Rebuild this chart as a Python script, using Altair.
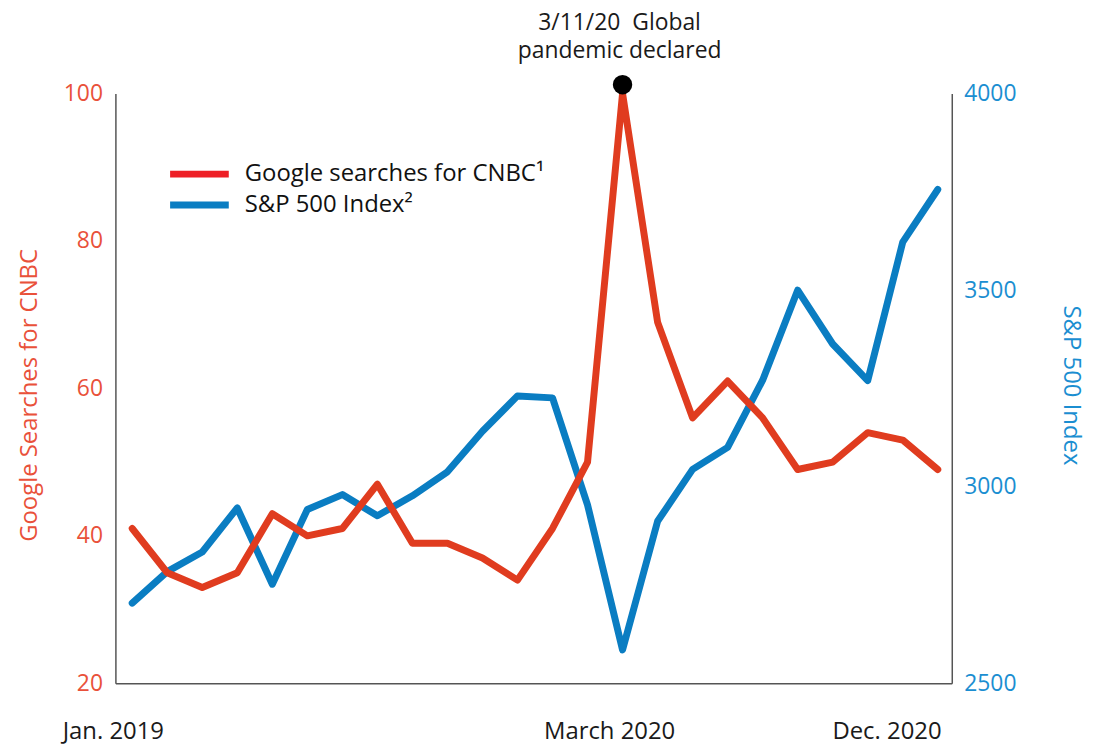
import altair as alt
import pandas as pd

months = ["2019-01", "2019-02", "2019-03", "2019-04", "2019-05", "2019-06",
          "2019-07", "2019-08", "2019-09", "2019-10", "2019-11", "2019-12",
          "2020-01", "2020-02", "2020-03", "2020-04", "2020-05", "2020-06",
          "2020-07", "2020-08", "2020-09", "2020-10", "2020-11", "2020-12"]
cnbc_searches = [41, 35, 33, 35, 43, 40, 41, 47, 39, 39, 37, 34,
                 41, 50, 100, 69, 56, 61, 56, 49, 50, 54, 53, 49]
sp500 = [2704, 2784, 2834, 2946, 2752, 2942, 2980, 2926, 2977, 3038, 3141, 3231,
         3226, 2954, 2585, 2912, 3044, 3100, 3271, 3500, 3363, 3270, 3622, 3756]

x_labels = ["Jan. 2019", "March 2020", "Dec. 2020"]
x_label_pos = [-0.54, 13.63, 21.55]

event_month = "2020-03"
event_line1 = "3/11/20\u00a0 Global"
event_line2 = "pandemic declared"
event_marker_value = 101.2

series_names = ["Google searches for CNBC\u00b9", "S&P 500 Index\u00b2"]
left_ticks = [20, 40, 60, 80, 100]
right_ticks = [2500, 3000, 3500, 4000]

RED = "#E03C1F"
BLUE = "#0A7DC2"
RED_LABEL = "#E9513A"
BLUE_LABEL = "#1B8ED1"
FONT = "Open Sans"
FS = 24

df = pd.DataFrame({"month": months, "idx": list(range(len(months))),
                   "cnbc": cnbc_searches, "sp": sp500})
lab_df = pd.DataFrame({"label": x_labels, "pos": x_label_pos})
ev_idx = months.index(event_month)
ev_df = pd.DataFrame({"idx": [ev_idx], "v": [event_marker_value]})
ev_df1 = pd.DataFrame({"idx": [ev_idx], "t": [event_line1]})
ev_df2 = pd.DataFrame({"idx": [ev_idx], "t": [event_line2]})

xscale = alt.Scale(domain=[-0.48, 23.4], nice=False, zero=False)
xaxis = alt.Axis(labels=False, ticks=False, grid=False, title=None,
                 domainColor="#555555", domainWidth=1.5)

blue_line = alt.Chart(df).mark_line(
    color=BLUE, strokeWidth=7, strokeCap="round", strokeJoin="round"
).encode(
    x=alt.X("idx:Q", scale=xscale, axis=xaxis),
    y=alt.Y("sp:Q", scale=alt.Scale(domain=[2500, 4000], nice=False, zero=False),
            axis=alt.Axis(orient="right", values=right_ticks, format="d",
                          ticks=False, grid=False,
                          labelColor=BLUE_LABEL, labelFontSize=23, labelFont=FONT,
                          labelPadding=12, domainColor="#555555", domainWidth=1.5,
                          title="S&P 500 Index", titleColor=BLUE_LABEL,
                          titleFontSize=FS, titleFont=FONT, titleFontWeight="normal",
                          titleAngle=90, titleX=119, titleY=293,
                          titleAlign="center", titleBaseline="middle")),
)

red_y_scale = alt.Scale(domain=[20, 100], nice=False, zero=False)
red_line = alt.Chart(df).mark_line(
    color=RED, strokeWidth=7, strokeCap="round", strokeJoin="round"
).encode(
    x=alt.X("idx:Q", scale=xscale, axis=xaxis),
    y=alt.Y("cnbc:Q", scale=red_y_scale,
            axis=alt.Axis(orient="left", values=left_ticks, ticks=False, grid=False,
                          labelColor=RED_LABEL, labelFontSize=23, labelFont=FONT,
                          labelPadding=13, domainColor="#555555", domainWidth=1.5,
                          title="Google Searches for CNBC", titleColor=RED_LABEL,
                          titleFontSize=FS, titleFont=FONT, titleFontWeight="normal",
                          titleAngle=270, titleX=-86, titleY=303,
                          titleAlign="center", titleBaseline="middle")),
)

dot = alt.Chart(ev_df).mark_point(
    filled=True, color="black", size=380, opacity=1
).encode(
    x=alt.X("idx:Q", scale=xscale),
    y=alt.Y("v:Q", scale=red_y_scale),
)

ev_text1 = alt.Chart(ev_df1).mark_text(
    font=FONT, fontSize=23, color="#1a1a1a", align="center",
    baseline="middle", dx=-3
).encode(x=alt.X("idx:Q", scale=xscale), y=alt.value(-71), text="t:N")
ev_text2 = alt.Chart(ev_df2).mark_text(
    font=FONT, fontSize=23, color="#1a1a1a", align="center",
    baseline="middle", dx=-3
).encode(x=alt.X("idx:Q", scale=xscale), y=alt.value(-43), text="t:N")

xlab = alt.Chart(lab_df).mark_text(
    font=FONT, fontSize=FS, color="#1a1a1a", align="center", baseline="middle"
).encode(
    x=alt.X("pos:Q", scale=xscale),
    y=alt.value(642),
    text="label:N",
)

leg_df0 = pd.DataFrame({"t": [series_names[0]]})
leg_df1 = pd.DataFrame({"t": [series_names[1]]})
leg_r0 = alt.Chart(leg_df0).mark_rule(color="#EE1F26", strokeWidth=7).encode(
    x=alt.value(55), x2=alt.value(114), y=alt.value(81))
leg_r1 = alt.Chart(leg_df1).mark_rule(color="#0A7DC2", strokeWidth=7).encode(
    x=alt.value(55), x2=alt.value(114), y=alt.value(112))
leg_t0 = alt.Chart(leg_df0).mark_text(
    font=FONT, fontSize=FS, color="#111111", align="left", baseline="middle"
).encode(x=alt.value(130), y=alt.value(81), text="t:N")
leg_t1 = alt.Chart(leg_df1).mark_text(
    font=FONT, fontSize=FS, color="#111111", align="left", baseline="middle"
).encode(x=alt.value(130), y=alt.value(112), text="t:N")

left_layer = alt.layer(red_line, dot, ev_text1, ev_text2, xlab,
                       leg_r0, leg_r1, leg_t0, leg_t1)

chart = alt.layer(blue_line, left_layer).resolve_scale(
    y="independent"
).properties(
    width=841, height=593,
    autosize=alt.AutoSizeParams(type="none"),
    padding={"left": 108, "top": 84, "right": 140, "bottom": 60},
    background="white",
).configure_view(stroke=None)

chart.save("out.html", embed_options={"renderer": "svg", "actions": False})
